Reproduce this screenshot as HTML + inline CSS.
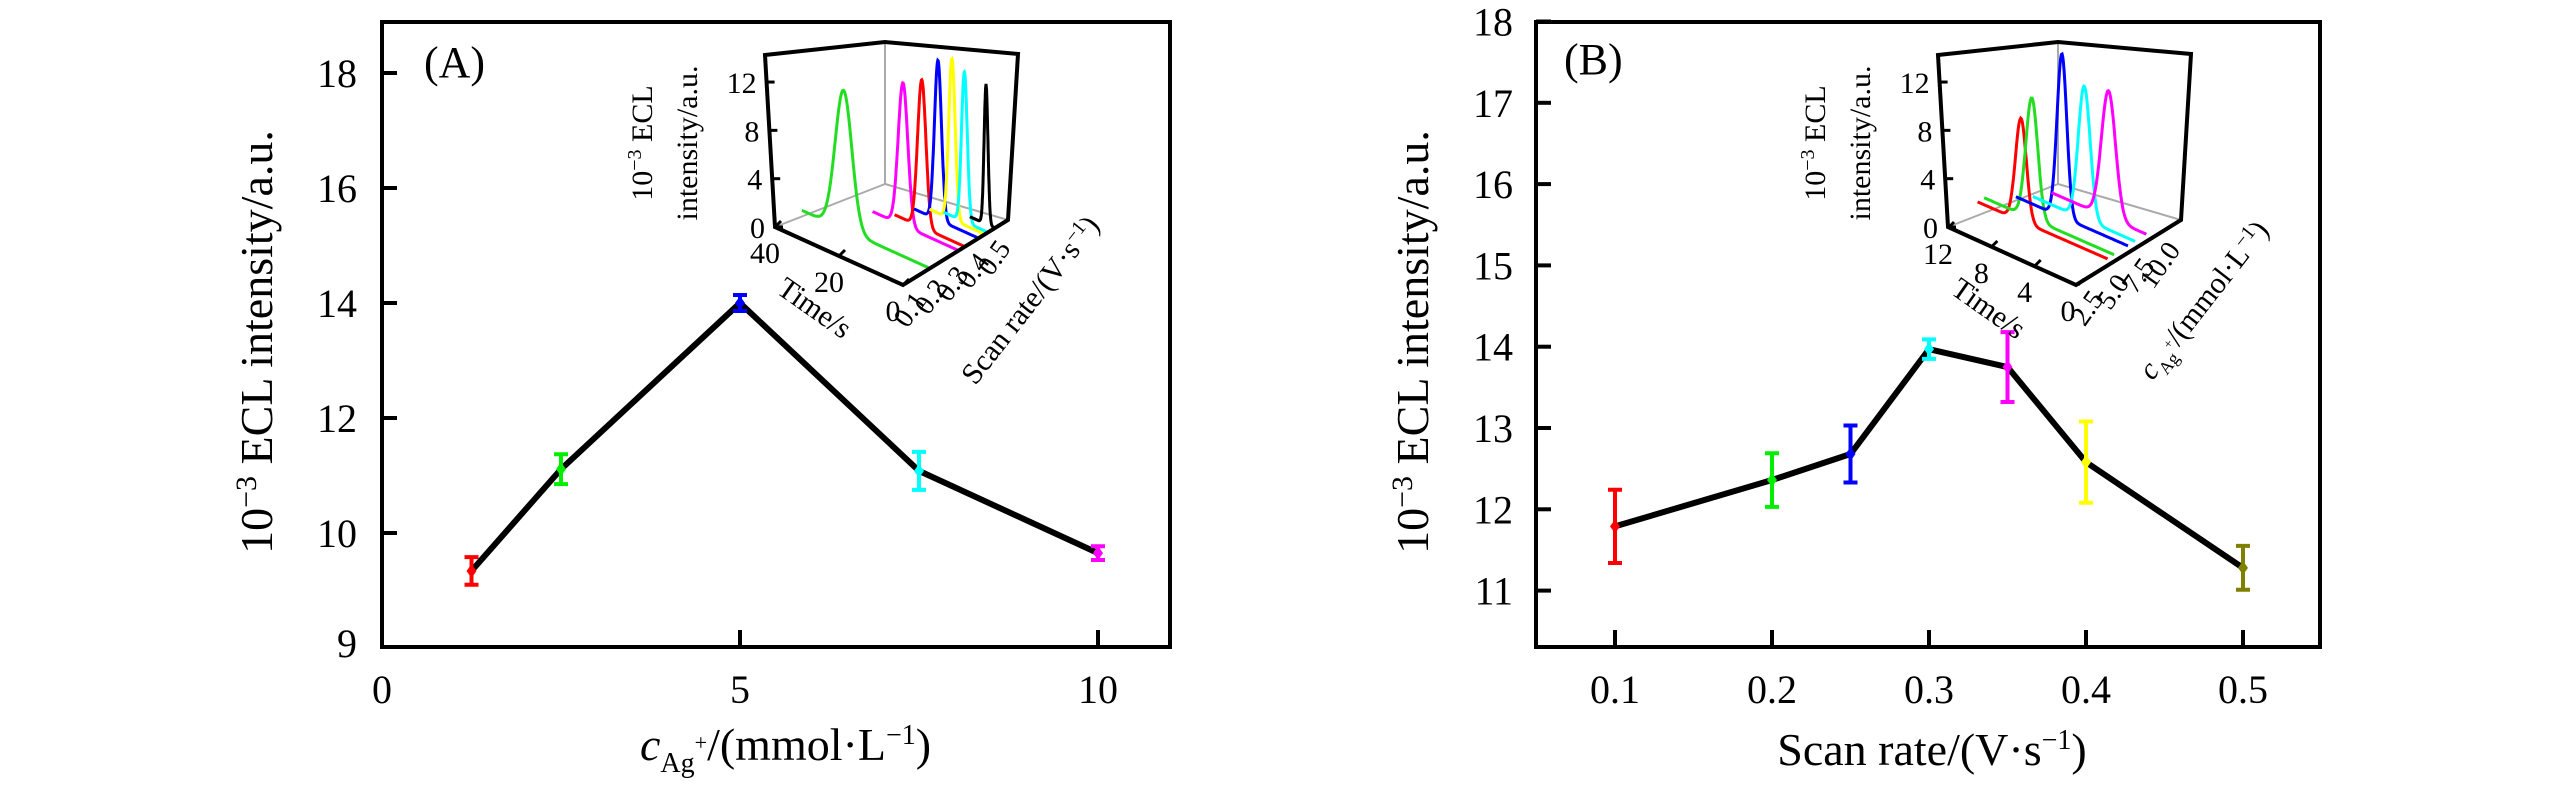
<!DOCTYPE html>
<html><head><meta charset="utf-8"><style>
html,body{margin:0;padding:0;background:#fff}
svg{display:block}
text{font-family:"Liberation Serif",serif;fill:#000}
</style></head><body>
<svg id="fig" width="2567" height="787" viewBox="0 0 2567 787" xmlns="http://www.w3.org/2000/svg">
<g id="pa"></g>
<g id="pb"></g>
</svg>
<script>
// Panel A data
const aX = [1.25, 2.5, 5, 7.5, 10];
const aY = [9.34, 11.11, 14.0, 11.08, 9.65];
const aErr = [0.24, 0.26, 0.14, 0.33, 0.12];
const aColors = ['#ff0000', '#00ee00', '#0000ff', '#00ffff', '#ff00ff'];
const aYTicks = [10, 12, 14, 16, 18];
const aXTicks = [0, 5, 10];
// Panel B data
const bX = [0.1, 0.2, 0.25, 0.3, 0.35, 0.4, 0.5];
const bY = [11.79, 12.36, 12.68, 13.97, 13.75, 12.58, 11.28];
const bErr = [0.45, 0.33, 0.35, 0.12, 0.43, 0.5, 0.27];
const bColors = ['#ff0000', '#00ee00', '#0000ff', '#00ffff', '#ff00ff', '#ffff00', '#808000'];
const bYTicks = [11, 12, 13, 14, 15, 16, 17, 18];
const bXTicks = [0.1, 0.2, 0.3, 0.4, 0.5];
// Inset A traces (scan rates)
const iaPeakT = [27, 17.4, 13.5, 12.7, 10.3, 7.4, 2.8];
const iaDepth = [0.256, 0.53, 0.59, 0.72, 0.78, 0.81, 0.876];
const iaHeight = [11.5, 11.8, 12.2, 13.2, 13.3, 12.4, 11.5];
const iaSigma = [2.6, 1.5, 1.3, 1.1, 1.0, 0.9, 0.6];
const iaColors = ['#22dd22', '#ff00ff', '#ff0000', '#0000ff', '#ffff00', '#00ffff', '#000000'];
const iaDepthLabels = ['0.1', '0.2', '0.3', '0.4', '0.5'];
const iaTimeTicks = [40, 20, 0];
// Inset B traces (Ag+ concentrations)
const ibPeakT = [8.0, 7.6, 6.1, 4.7, 3.5];
const ibDepth = [0.29, 0.354, 0.49, 0.56, 0.67];
const ibHeight = [8.5, 10.0, 13.5, 11.0, 10.5];
const ibSigma = [0.5, 0.55, 0.45, 0.55, 0.65];
const ibColors = ['#ff0000', '#22dd22', '#0000ff', '#00ffff', '#ff00ff'];
const ibDepthLabels = ['2.5', '5.0', '7.5', '10.0'];
const ibTimeTicks = [12, 8, 4, 0];
const insetZTicks = [0, 4, 8, 12];

const NS = 'http://www.w3.org/2000/svg';
function mk(parent, tag, attrs, txt) {
  const e = document.createElementNS(NS, tag);
  for (const k in attrs) e.setAttribute(k, attrs[k]);
  if (txt !== undefined) e.textContent = txt;
  parent.appendChild(e);
  return e;
}

const pa = document.getElementById('pa');
const pb = document.getElementById('pb');

// ---------- Panel A ----------
const axA = v => 382 + 71.6 * v;
const ayA = v => 533 - 57.5 * (v - 10);
let e;
e = mk(pa, 'rect', {x: 382, y: 22, width: 788, height: 625, fill: 'none', stroke: '#000', 'stroke-width': 4});


aYTicks.forEach(v => {
  e = mk(pa, 'line', {x1: 382, x2: 397, y1: ayA(v), y2: ayA(v), stroke: '#000', 'stroke-width': 4});
  
  
  e = mk(pa, 'text', {x: 357, y: ayA(v) + 14, 'font-size': 40, 'text-anchor': 'end'}, String(v));
  
  
});
e = mk(pa, 'text', {x: 357, y: 657, 'font-size': 40, 'text-anchor': 'end'}, '9');


aXTicks.forEach(v => {
  if (v > 0) {
    e = mk(pa, 'line', {x1: axA(v), x2: axA(v), y1: 647, y2: 630, stroke: '#000', 'stroke-width': 4});
    
    
  }
  e = mk(pa, 'text', {x: axA(v), y: 703, 'font-size': 40, 'text-anchor': 'middle'}, String(v));
  
  
});
e = mk(pa, 'text', {x: 272, y: 342, 'font-size': 46, 'text-anchor': 'middle', transform: 'rotate(-90 272 342)'});
e.innerHTML = '10<tspan font-size="30" dy="-16">−3</tspan><tspan dy="16"> ECL intensity/a.u.</tspan>';


e = mk(pa, 'text', {x: 640, y: 760, 'font-size': 46});
e.innerHTML = '<tspan font-style="italic">c</tspan><tspan font-size="28" dy="12">Ag</tspan><tspan font-size="22" dy="-22">+</tspan><tspan dy="10">/(mmol·L</tspan><tspan font-size="28" dy="-16">−1</tspan><tspan dy="16">)</tspan>';


e = mk(pa, 'text', {x: 424, y: 77, 'font-size': 44}, '(A)');



function series(g, xs, ys, errs, cols, fx, fy, nm) {
  e = mk(g, 'polyline', {points: xs.map((x, i) => fx(x) + ',' + fy(ys[i])).join(' '), fill: 'none', stroke: '#000', 'stroke-width': 6, 'stroke-linejoin': 'round'});
  
  
  xs.forEach((x, i) => {
    const px = fx(x), py = fy(ys[i]), t = fy(ys[i] + errs[i]), b = fy(ys[i] - errs[i]);
    const c = cols[i];
    e = mk(g, 'path', {d: `M${px},${t}V${b}M${px - 7},${t}H${px + 7}M${px - 7},${b}H${px + 7}`, stroke: c, 'stroke-width': 4, fill: 'none'});
    
    
    e = mk(g, 'path', {d: `M${px},${py - 7}L${px + 5},${py}L${px},${py + 7}L${px - 5},${py}Z`, fill: c});
    
    
  });
}
series(pa, aX, aY, aErr, aColors, axA, ayA, 'a');

// ---------- Panel B ----------
const axB = v => 1615 + 1570 * (v - 0.1);
const ayB = v => 428 - 81.3 * (v - 13);
e = mk(pb, 'rect', {x: 1536, y: 22, width: 784, height: 625, fill: 'none', stroke: '#000', 'stroke-width': 4});


bYTicks.forEach(v => {
  e = mk(pb, 'line', {x1: 1536, x2: 1551, y1: ayB(v), y2: ayB(v), stroke: '#000', 'stroke-width': 4});
  
  
  e = mk(pb, 'text', {x: 1513, y: ayB(v) + 14, 'font-size': 40, 'text-anchor': 'end'}, String(v));
  
  
});
bXTicks.forEach(v => {
  e = mk(pb, 'line', {x1: axB(v), x2: axB(v), y1: 647, y2: 630, stroke: '#000', 'stroke-width': 4});
  
  
  e = mk(pb, 'text', {x: axB(v), y: 703, 'font-size': 40, 'text-anchor': 'middle'}, v.toFixed(1));
  
  
});
e = mk(pb, 'text', {x: 1428, y: 342, 'font-size': 46, 'text-anchor': 'middle', transform: 'rotate(-90 1428 342)'});
e.innerHTML = '10<tspan font-size="30" dy="-16">−3</tspan><tspan dy="16"> ECL intensity/a.u.</tspan>';


e = mk(pb, 'text', {x: 1932, y: 765, 'font-size': 46, 'text-anchor': 'middle'});
e.innerHTML = 'Scan rate/(V·s<tspan font-size="28" dy="-16">−1</tspan><tspan dy="16">)</tspan>';


e = mk(pb, 'text', {x: 1564, y: 74, 'font-size': 44}, '(B)');


series(pb, bX, bY, bErr, bColors, axB, ayB, 'b');

// ---------- Insets ----------
function inset(g, dx, O, tv, dv, tMax, peakT, depth, height, sigma, cols, base, timeTicks, depthLabels, depthTitle, nm) {
  const Z = 12.08;
  const P = (t, f, h) => [O[0] + tv[0] * t + dv[0] * f, O[1] + tv[1] * t + dv[1] * f - Z * h];
  // back grey
  e = mk(g, 'path', {d: `M${885 + dx},42V184L${775 + dx},227M${885 + dx},184L${1008 + dx},220`, stroke: '#aaa', 'stroke-width': 2, fill: 'none'});
  
  
  // traces
  peakT.forEach((tp, i) => {
    const pts = [];
    const ts = Math.min(tMax, tp + 5 * sigma[i] + 2);
    for (let k = 0; k <= 160; k++) {
      const t = ts - ts * k / 160;
      const h = base + height[i] * Math.exp(-0.5 * Math.pow((t - tp) / sigma[i], 2));
      const p = P(t, depth[i], h);
      pts.push(p[0].toFixed(1) + ',' + p[1].toFixed(1));
    }
    e = mk(g, 'polyline', {points: pts.join(' '), fill: 'none', stroke: cols[i], 'stroke-width': 3});
    
    
  });
  // frame
  e = mk(g, 'path', {d: `M${765 + dx},55L${885 + dx},42L${1018 + dx},54L${1008 + dx},220L${903 + dx},285L${775 + dx},227Z`, stroke: '#000', 'stroke-width': 4, fill: 'none'});
  
  
  insetZTicks.forEach(z => {
    const y = 227 - Z * z;
    const x = 775 + dx - 10 * z / 14.3;
    e = mk(g, 'line', {x1: x, x2: x + 8, y1: y, y2: y, stroke: '#000', 'stroke-width': 3});
    
    
    e = mk(g, 'text', {x: x - 10, y: y + 11, 'font-size': 30, 'text-anchor': 'end'}, String(z));
    
    
  });
  timeTicks.forEach(t => {
    const p = P(t, 0, 0);
    e = mk(g, 'line', {x1: p[0], x2: p[0] + 6, y1: p[1], y2: p[1] - 6, stroke: '#000', 'stroke-width': 3});
    
    
    e = mk(g, 'text', {x: p[0] - 10, y: p[1] + 36, 'font-size': 30, 'text-anchor': 'middle'}, String(t));
    
    
  });
  depthLabels.forEach((s, i) => {
    const f = (i + 0.5) / depthLabels.length;
    const p = P(0, f, 0);
    e = mk(g, 'text', {x: p[0] + 14, y: p[1] + 22, 'font-size': 28, transform: `rotate(-55 ${p[0] + 14} ${p[1] + 22})`, 'text-anchor': 'end'}, s);
    
    
  });
  const tm = P(tMax / 2, 0, 0);
  e = mk(g, 'text', {x: tm[0] - 30, y: tm[1] + 60, 'font-size': 30, 'text-anchor': 'middle', transform: `rotate(35 ${tm[0] - 30} ${tm[1] + 60})`}, 'Time/s');
  
  
  const dm = P(0, 0.6, 0);
  e = mk(g, 'text', {x: dm[0] + 72, y: dm[1] + 60, 'font-size': 30, 'text-anchor': 'middle', transform: `rotate(-52 ${dm[0] + 72} ${dm[1] + 60})`});
  e.innerHTML = depthTitle;
  
  
  const tx = 642 + dx, ty = 143;
  e = mk(g, 'text', {x: tx + 10, y: ty, 'font-size': 30, 'text-anchor': 'middle', transform: `rotate(-90 ${tx + 10} ${ty})`});
  e.innerHTML = '10<tspan font-size="20" dy="-11">−3</tspan><tspan dy="11"> ECL</tspan>';
  
  
  e = mk(g, 'text', {x: tx + 55, y: ty, 'font-size': 30, 'text-anchor': 'middle', transform: `rotate(-90 ${tx + 55} ${ty})`}, 'intensity/a.u.');
  
  
}
inset(pa, 0, [903, 285], [-3.2, -1.45], [105, -65], 40, iaPeakT, iaDepth, iaHeight, iaSigma, iaColors, 0, iaTimeTicks, iaDepthLabels, 'Scan rate/(V·s<tspan font-size="20" dy="-10">−1</tspan><tspan dy="10">)</tspan>', 'a');
inset(pb, 1173, [2078, 285], [-10.83, -4.75], [102, -65], 12, ibPeakT, ibDepth, ibHeight, ibSigma, ibColors, 0.6, ibTimeTicks, ibDepthLabels, '<tspan font-style="italic">c</tspan><tspan font-size="18" dy="8">Ag</tspan><tspan font-size="14" dy="-14">+</tspan><tspan dy="6">/(mmol·L</tspan><tspan font-size="20" dy="-10">−1</tspan><tspan dy="10">)</tspan>', 'b');
</script>
</body></html>
